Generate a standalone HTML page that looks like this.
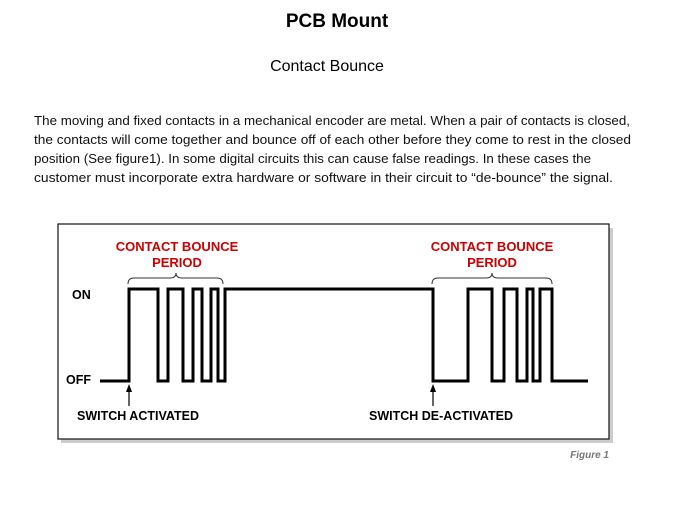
<!DOCTYPE html>
<html><head><style>
body{margin:0;width:674px;height:506px;background:#fff;font-family:"Liberation Sans",sans-serif;position:relative;overflow:hidden}
.t{position:absolute;left:0;width:674px;text-align:center}
</style></head><body>
<div class="t" style="top:11px;font-size:19px;font-weight:bold">PCB Mount</div>
<div class="t" style="top:58px;font-size:16px;left:-10px">Contact Bounce</div>
<svg width="674" height="506" style="position:absolute;left:0;top:0" font-family="Liberation Sans, sans-serif">
<g font-size="12.5" fill="#111" lengthAdjust="spacingAndGlyphs">
<text x="34" y="125" textLength="596" lengthAdjust="spacingAndGlyphs">The moving and fixed contacts in a mechanical encoder are metal. When a pair of contacts is closed,</text>
<text x="34" y="144" textLength="597" lengthAdjust="spacingAndGlyphs">the contacts will come together and bounce off of each other before they come to rest in the closed</text>
<text x="34" y="163" textLength="557" lengthAdjust="spacingAndGlyphs">position (See figure1). In some digital circuits this can cause false readings. In these cases the</text>
<text x="34" y="182" textLength="579" lengthAdjust="spacingAndGlyphs">customer must incorporate extra hardware or software in their circuit to “de-bounce” the signal.</text>
</g>
<rect x="61" y="228" width="552" height="215" fill="#ccc"/>
<rect x="58" y="224" width="551" height="215" fill="#fff" stroke="#111" stroke-width="1.2"/>
<g fill="#c00" font-weight="bold" font-size="13" text-anchor="middle">
<text x="177" y="251">CONTACT BOUNCE</text><text x="177" y="267">PERIOD</text>
<text x="492" y="251">CONTACT BOUNCE</text><text x="492" y="267">PERIOD</text>
</g>
<g fill="none" stroke="#333" stroke-width="1">
<path d="M128 284 Q128 278 134 278 L170 278 Q176 278 176 273 Q176 278 182 278 L217 278 Q223 278 223 284"/>
<path d="M432 284 Q432 278 438 278 L486 278 Q492 278 492 273 Q492 278 498 278 L546 278 Q552 278 552 284"/>
</g>
<path fill="none" stroke="#000" stroke-width="3" d="M100 381 H129 V289 H158 V381 H168 V289 H183 V381 H193 V289 H202 V381 H211 V289 H218 V381 H225 V289 H433 V381 H468 V289 H492 V381 H504 V289 H517 V381 H527 V289 H533 V381 H540 V289 H552 V381 H588"/>
<g font-weight="bold" font-size="12.5" fill="#000">
<text x="72" y="299">ON</text><text x="66" y="384">OFF</text>
<text x="77" y="420">SWITCH ACTIVATED</text>
<text x="369" y="420">SWITCH DE-ACTIVATED</text>
</g>
<g stroke="#000" stroke-width="1.2"><line x1="129" y1="390" x2="129" y2="406"/><line x1="433" y1="390" x2="433" y2="406"/></g>
<g fill="#000"><path d="M129 384 L126 392 L132 392Z"/><path d="M433 384 L430 392 L436 392Z"/></g>
<text x="609" y="458" text-anchor="end" font-size="10" font-style="italic" font-weight="bold" fill="#777">Figure 1</text>
</svg>
</body></html>
